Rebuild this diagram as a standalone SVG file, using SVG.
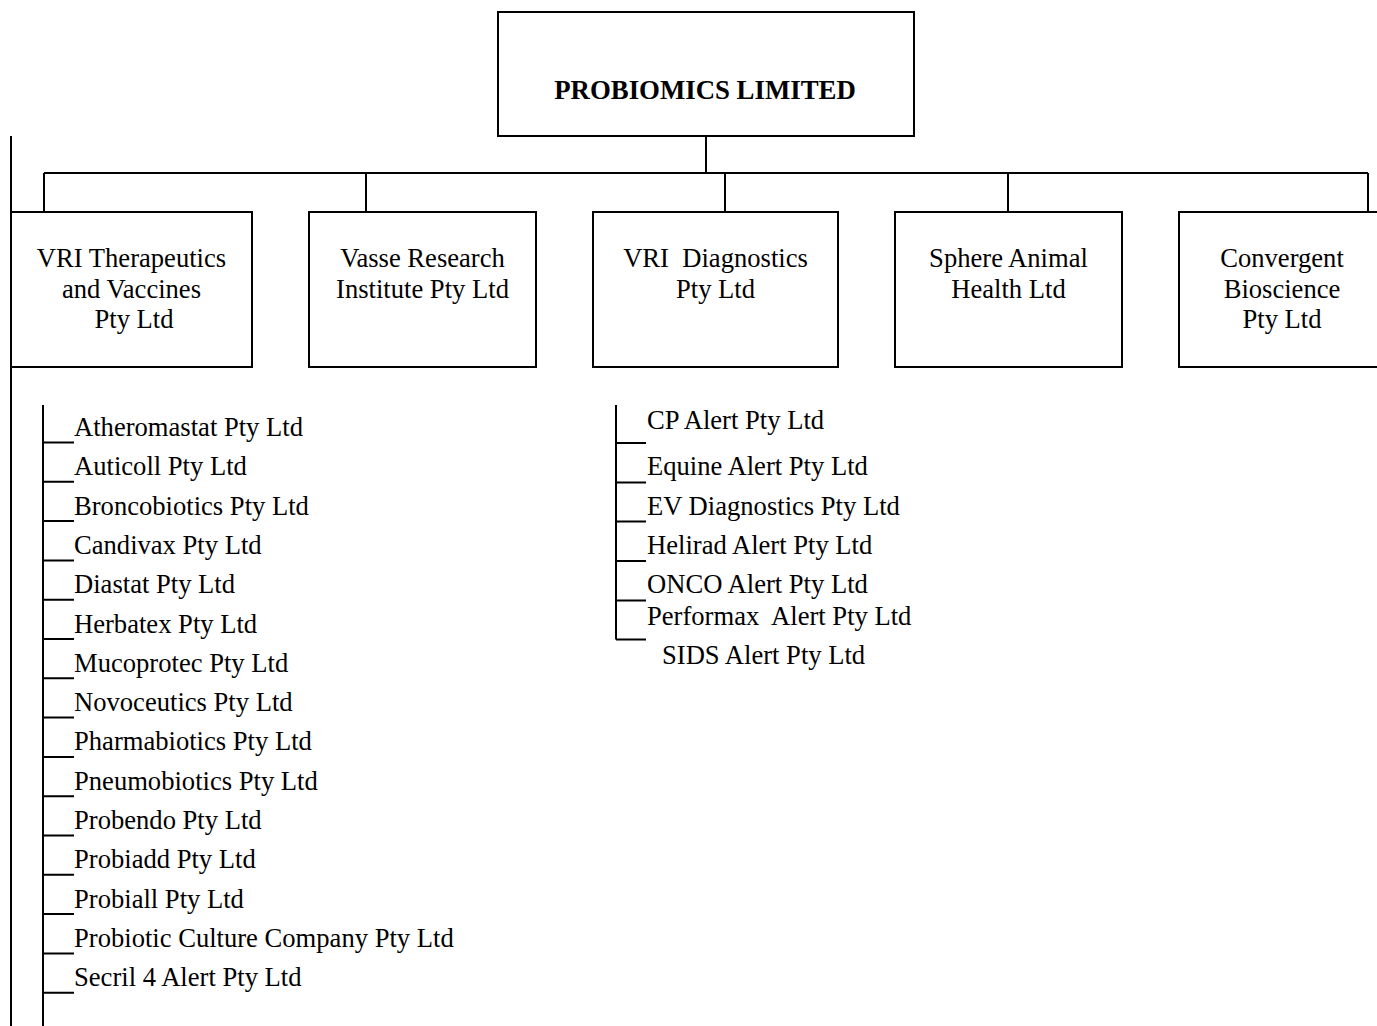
<svg xmlns="http://www.w3.org/2000/svg" width="1377" height="1026" viewBox="0 0 1377 1026">
<style>
text{font-family:"Liberation Serif","Times New Roman",serif;font-size:26.6px;fill:#000}
.c{text-anchor:middle}
.b{font-weight:bold;font-size:26.8px}
.box{fill:#fff;stroke:#000;stroke-width:2}
.ln{stroke:#000;stroke-width:2;fill:none}
</style>
<rect width="1377" height="1026" fill="#fff"/>
<g id="connectors">
<path class="ln" d="M706 136V173M44 173H1368M44 173V212M366 173V212M725 173V212M1008 173V212M1368 173V212"/>
<path class="ln" d="M11 136V1026"/>
<path class="ln" d="M43 405V1026"/>
<path class="ln" d="M43 442.5H74M43 481.8H74M43 521.1H74M43 560.4H74M43 599.7H74M43 639H74M43 678.3H74M43 717.6H74M43 756.9H74M43 796.2H74M43 835.5H74M43 874.8H74M43 914.1H74M43 953.4H74M43 992.7H74"/>
<path class="ln" d="M616 405V639.5M616 443H646M616 482.5H646M616 521.5H646M616 561H646M616 600.5H646M616 639.5H646"/>
</g>
<g id="probiomics">
<rect class="box" x="498" y="12" width="416" height="124"/>
<text class="c b" x="705" y="99">PROBIOMICS LIMITED</text>
</g>
<g id="vri-therapeutics">
<rect class="box" x="11" y="212" width="241" height="155"/>
<text class="c" x="131.5" y="267">VRI Therapeutics</text>
<text class="c" x="131.5" y="298">and Vaccines</text>
<text class="c" x="134" y="328">Pty Ltd</text>
</g>
<g id="vasse">
<rect class="box" x="309" y="212" width="227" height="155"/>
<text class="c" x="422.5" y="267">Vasse Research</text>
<text class="c" x="422.5" y="298">Institute Pty Ltd</text>
</g>
<g id="vri-diagnostics">
<rect class="box" x="593" y="212" width="245" height="155"/>
<text class="c" x="715.5" y="267" xml:space="preserve">VRI  Diagnostics</text>
<text class="c" x="715.5" y="298">Pty Ltd</text>
</g>
<g id="sphere">
<rect class="box" x="895" y="212" width="227" height="155"/>
<text class="c" x="1008.5" y="267">Sphere Animal</text>
<text class="c" x="1008.5" y="298">Health Ltd</text>
</g>
<g id="convergent">
<rect class="box" x="1179" y="212" width="210" height="155"/>
<text class="c" x="1282" y="267">Convergent</text>
<text class="c" x="1282" y="298">Bioscience</text>
<text class="c" x="1282" y="328">Pty Ltd</text>
</g>
<g id="therapeutics-subs">
<text x="74" y="436">Atheromastat Pty Ltd</text>
<text x="74" y="475.3">Auticoll Pty Ltd</text>
<text x="74" y="514.6">Broncobiotics Pty Ltd</text>
<text x="74" y="553.9">Candivax Pty Ltd</text>
<text x="74" y="593.2">Diastat Pty Ltd</text>
<text x="74" y="632.5">Herbatex Pty Ltd</text>
<text x="74" y="671.8">Mucoprotec Pty Ltd</text>
<text x="74" y="711.1">Novoceutics Pty Ltd</text>
<text x="74" y="750.4">Pharmabiotics Pty Ltd</text>
<text x="74" y="789.7">Pneumobiotics Pty Ltd</text>
<text x="74" y="829">Probendo Pty Ltd</text>
<text x="74" y="868.3">Probiadd Pty Ltd</text>
<text x="74" y="907.6">Probiall Pty Ltd</text>
<text x="74" y="946.9">Probiotic Culture Company Pty Ltd</text>
<text x="74" y="986.2">Secril 4 Alert Pty Ltd</text>
</g>
<g id="diagnostics-subs">
<text x="647" y="429">CP Alert Pty Ltd</text>
<text x="647" y="475">Equine Alert Pty Ltd</text>
<text x="647" y="514.5">EV Diagnostics Pty Ltd</text>
<text x="647" y="553.5">Helirad Alert Pty Ltd</text>
<text x="647" y="592.5">ONCO Alert Pty Ltd</text>
<text x="647" y="625" xml:space="preserve">Performax  Alert Pty Ltd</text>
<text x="662" y="664">SIDS Alert Pty Ltd</text>
</g>
</svg>
